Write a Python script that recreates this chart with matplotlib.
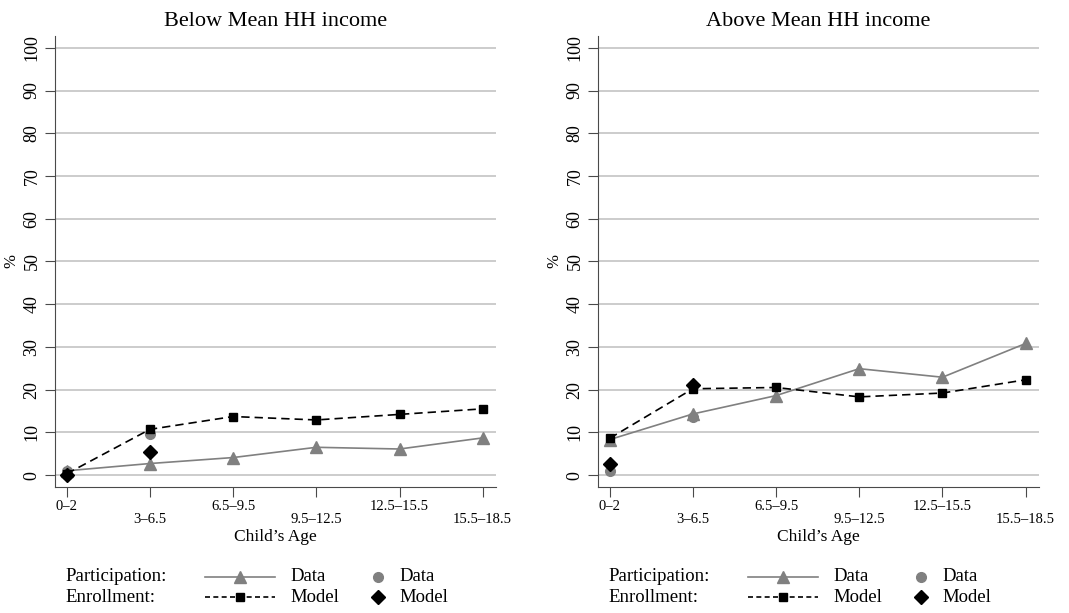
import matplotlib.pyplot as plt
from matplotlib.lines import Line2D

plt.rcParams['font.family'] = ['Liberation Serif', 'DejaVu Serif']

ages = ['0–2', '3–6.5', '6.5–9.5', '9.5–12.5', '12.5–15.5', '15.5–18.5']
titles = ['Below Mean HH income', 'Above Mean HH income']

# participation: data line (triangles), enrollment: model line (squares)
part_data = [[1.0, 2.7, 4.1, 6.5, 6.1, 8.7],
             [8.3, 14.3, 18.6, 24.9, 22.9, 30.8]]
enrol_model = [[0.3, 10.7, 13.7, 12.9, 14.2, 15.5],
               [8.6, 20.2, 20.5, 18.3, 19.2, 22.3]]
# enrollment points only for first two age groups
dot_data = [[1.0, 9.6], [1.0, 13.7]]
dot_model = [[0.1, 5.3], [2.6, 21.0]]

gray = '#808080'

def main():
    fig = plt.figure(figsize=(10.69, 6.13), dpi=100)
    lefts = [0.0515, 0.5594]
    for k in range(2):
        ax = fig.add_axes([lefts[k], 0.2055, 0.4125, 0.736])
        x = list(range(len(ages)))
        ax.plot(x, part_data[k], color=gray, lw=1.2, marker='^', ms=8, zorder=3)
        ax.plot(x, enrol_model[k], color='black', lw=1.2, ls=(0, (5, 3)),
                marker='s', ms=5.5, zorder=4)
        ax.plot(x[:2], dot_data[k], ls='none', color=gray, marker='o', ms=7, zorder=3)
        ax.plot(x[:2], dot_model[k], ls='none', color='black', marker='D', ms=7, zorder=5)

        ax.set_xlim(-0.14, 5.16)
        ax.set_ylim(-2.8, 102.8)
        ax.set_yticks(range(0, 101, 10))
        ax.set_yticklabels([str(v) for v in range(0, 101, 10)], rotation=90,
                           va='center', fontsize=13)
        ax.yaxis.grid(True, color='#c4c4c4', lw=1.2)
        ax.set_axisbelow(True)
        ax.set_xticks(x)
        ax.set_xticklabels(ages, fontsize=10.5)
        for i, lab in enumerate(ax.get_xticklabels()):
            if i % 2 == 1:
                lab.set_y(-0.03)
        for s in ['top', 'right']:
            ax.spines[s].set_visible(False)
        for s in ['left', 'bottom']:
            ax.spines[s].set_color('#4a4a4a')
        ax.tick_params(colors='#4a4a4a', length=7, labelcolor='black')
        ax.tick_params(axis='x', pad=2)
        ax.set_title(titles[k], fontsize=16, pad=7)
        ax.set_ylabel('%', fontsize=12, labelpad=3)
        ax.set_xlabel("Child’s Age", fontsize=12.5, labelpad=2)

        # legend drawn beneath each panel
        x0 = lefts[k] + 0.0095
        rows = [('Participation:', 'Data', '-', '^', gray, 'o', gray),
                ('Enrollment:', 'Model', (0, (3, 2)), 's', 'black', 'D', 'black')]
        for row, (name, lab, ls, mk, col, dmk, dcol) in enumerate(rows):
            yy = 0.059 if row == 0 else 0.026
            fig.text(x0, yy, name, fontsize=13.5, va='center')
            fig.lines.append(Line2D([x0 + 0.131, x0 + 0.196], [yy, yy], color=col,
                                    lw=1.2, ls=ls, transform=fig.transFigure))
            fig.lines.append(Line2D([x0 + 0.1635], [yy], color=col, marker=mk,
                                    ms=6 if mk == 's' else 8, ls='none',
                                    transform=fig.transFigure))
            fig.text(x0 + 0.211, yy, lab, fontsize=13.5, va='center')
            fig.lines.append(Line2D([x0 + 0.293], [yy], color=dcol, marker=dmk,
                                    ms=7, ls='none', transform=fig.transFigure))
            fig.text(x0 + 0.313, yy, lab, fontsize=13.5, va='center')

    fig.savefig('out.png', dpi=100)


if __name__ == "__main__":
    main()
